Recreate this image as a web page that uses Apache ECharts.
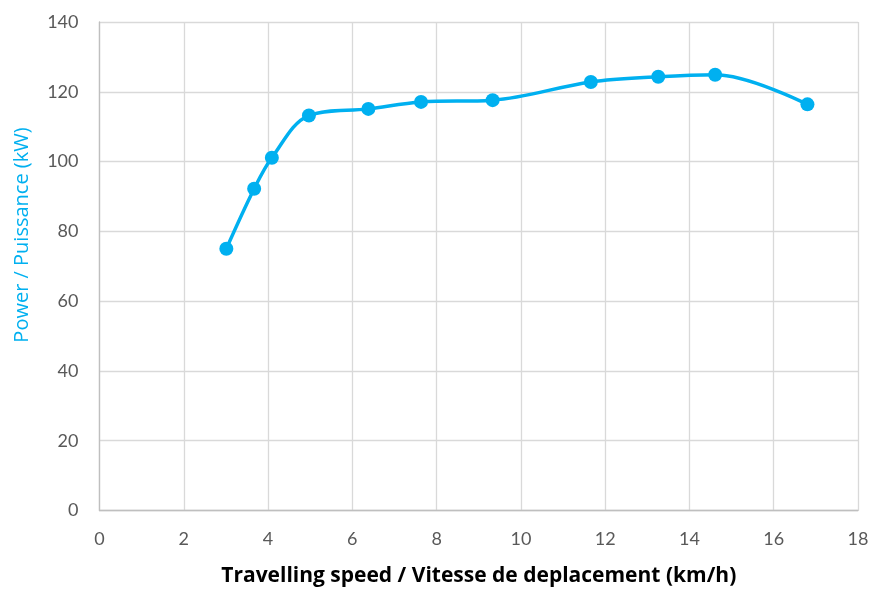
<!DOCTYPE html>
<html>
<head>
<meta charset="utf-8">
<script src="https://cdn.jsdelivr.net/npm/echarts@6/dist/echarts.min.js"></script>
<style>html,body{margin:0;padding:0;background:#fff}#c{width:873px;height:592px}</style>
</head>
<body>
<div id="c"></div>
<script>
var speed = [3.01, 3.67, 4.09, 4.97, 6.38, 7.63, 9.33, 11.66, 13.26, 14.61, 16.80];
var power = [75.0, 92.2, 101.1, 113.2, 115.1, 117.1, 117.6, 122.8, 124.3, 124.9, 116.4];
var xTitle = 'Travelling speed / Vitesse de deplacement (km/h)';
var yTitle = 'Power / Puissance (kW)';

var chart = echarts.init(document.getElementById('c'), null, {renderer: 'canvas'});
var font = 'Lato, "Open Sans", sans-serif';
var tfont = '"Open Sans", Lato, sans-serif';
chart.setOption({
  animation: false,
  grid: {left: 99.5, right: 15, top: 22, bottom: 81.5, containLabel: false},
  xAxis: {
    type: 'value', min: 0, max: 18, interval: 2,
    name: xTitle, nameLocation: 'middle', nameGap: 55,
    nameTextStyle: {fontFamily: tfont, fontSize: 21, fontWeight: 'bold', color: '#000'},
    axisLine: {show: true, lineStyle: {color: '#BFBFBF', width: 1.3}},
    axisTick: {show: false},
    axisLabel: {fontFamily: font, fontSize: 18, color: '#595959', margin: 20},
    splitLine: {show: true, lineStyle: {color: '#D9D9D9', width: 1.3}}
  },
  yAxis: {
    type: 'value', min: 0, max: 140, interval: 20,
    axisLine: {show: true, lineStyle: {color: '#BFBFBF', width: 1.3}},
    axisTick: {show: false},
    axisLabel: {fontFamily: font, fontSize: 18, color: '#595959', margin: 21},
    splitLine: {show: true, lineStyle: {color: '#D9D9D9', width: 1.3}}
  },
  graphic: [{
    type: 'text', rotation: Math.PI / 2,
    x: 22, y: 235,
    style: {text: yTitle, font: '20px ' + tfont, fill: '#00B0F0', textAlign: 'center', textVerticalAlign: 'middle'}
  }],
  series: [{
    type: 'line',
    data: speed.map(function (s, i) { return [s, power[i]]; }),
    smooth: 0.35,
    symbol: 'circle', symbolSize: 14,
    lineStyle: {color: '#00B0F0', width: 3.5},
    itemStyle: {color: '#00B0F0'}
  }]
});
</script>
</body>
</html>
